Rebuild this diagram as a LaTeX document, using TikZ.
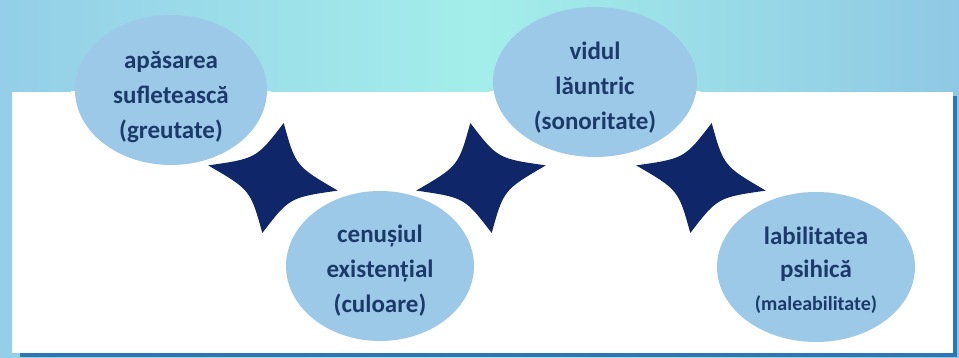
\documentclass[tikz,border=0pt]{standalone}
\usepackage{fontspec}
\setmainfont{Carlito}
\usetikzlibrary{shapes.geometric}
\definecolor{bgleft}{RGB}{148,206,232}
\definecolor{bgmid}{RGB}{163,238,234}
\definecolor{bgright}{RGB}{143,200,228}
\definecolor{shadowblue}{RGB}{46,117,182}
\definecolor{bubblefill}{RGB}{157,201,233}
\definecolor{starnavy}{RGB}{15,38,105}
\definecolor{textnavy}{RGB}{28,58,105}
\tikzset{
  bubble/.style={ellipse, fill=bubblefill, inner sep=0pt},
  halo/.style={ellipse, fill=white, inner sep=0pt},
  lbl/.style={align=center, text=textnavy, inner sep=0pt, font=\bfseries\fontsize{25}{35}\selectfont},
  navystar/.pic={\fill[starnavy] (-66,0) .. controls (-20,-16) .. (0,-56) .. controls (20,-16) .. (66,0) .. controls (20,16) .. (0,56) .. controls (-20,16) .. cycle;}
}
\begin{document}
\begin{tikzpicture}[x=1pt,y=-1pt]
\useasboundingbox (0,0) rectangle (959,358);
% background
\shade[left color=bgleft, right color=bgright, middle color=bgmid] (0,0) rectangle (959,358);
% panel with shadow
\fill[shadowblue] (20,96) rectangle (957,357);
\fill[white] (12,92) rectangle (953,353);
% stars
\pic[rotate=-11] at (273,178) {navystar};
\pic[rotate=11] at (481,178) {navystar};
\pic[rotate=-11] at (701,178) {navystar};
% white halos inside the panel
\begin{scope}
\clip (12,92) rectangle (953,353);
\node[halo, minimum width=200pt, minimum height=158pt] (h1) at (171,90) {};
\node[halo, minimum width=196pt, minimum height=158pt] (h2) at (380,266) {};
\node[halo, minimum width=212pt, minimum height=158pt] (h3) at (595,82) {};
\node[halo, minimum width=206pt, minimum height=158pt] (h4) at (816,267) {};
\end{scope}
% bubbles
\node[bubble, minimum width=192pt, minimum height=150pt] (c1) at (171,90) {};
\node[bubble, minimum width=188pt, minimum height=150pt] (c2) at (380,266) {};
\node[bubble, minimum width=204pt, minimum height=150pt] (c3) at (595,82) {};
\node[bubble, minimum width=198pt, minimum height=150pt] (c4) at (816,267) {};
% labels
\node[lbl] (t1) at (171,97) {apăsarea\\sufletească\\(greutate)};
\node[lbl] (t2) at (380,271) {cenușiul\\existențial\\(culoare)};
\node[lbl] (t3) at (595,88) {vidul\\lăuntric\\(sonoritate)};
\node[lbl, font=\bfseries\fontsize{25}{33}\selectfont] (t4) at (816,270) {labilitatea\\psihică\\{\fontsize{20}{20}\selectfont(maleabilitate)}};
\end{tikzpicture}
\end{document}
